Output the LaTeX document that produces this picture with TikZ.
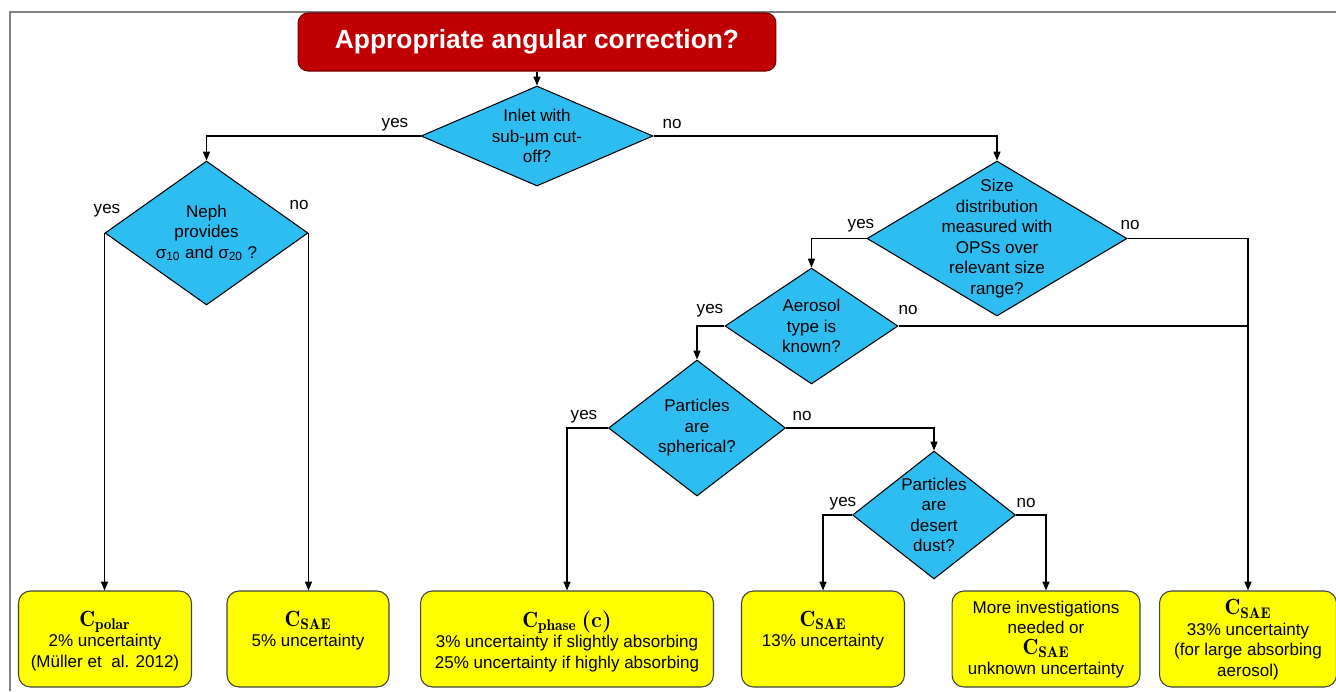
\documentclass[tikz,border=0pt]{standalone}
\usepackage{fontspec}
\usepackage{amsmath}
\usetikzlibrary{shapes.geometric, arrows.meta}
\newfontfamily\arialfont{Liberation Sans}
\definecolor{titlered}{HTML}{C00000}
\definecolor{qblue}{HTML}{2EBDF0}
\definecolor{ansyellow}{HTML}{FFFF00}
\definecolor{framegray}{HTML}{808080}
\newcommand{\qfont}{\arialfont\fontsize{9.7}{11.65}\selectfont}
\newcommand{\Cbold}[1]{{\fontsize{12.5}{11.65}\selectfont$\mathbf{C}_{\mathbf{#1}}$}}
\newcommand{\restext}[3]{\parbox[c][1.92cm][t]{#1}{\centering\vspace*{#2}#3}}
\tikzstyle{headline} = [rectangle, rounded corners=0.2cm, minimum width=9.56cm, minimum height=1.16cm, draw=titlered!60!black, fill=titlered, text=white, font=\arialfont\fontsize{15}{18}\selectfont\bfseries]
\tikzstyle{question} = [diamond, inner sep=0pt, draw=black, fill=qblue]
\tikzstyle{qtext} = [align=center, inner sep=0pt, font=\qfont]
\tikzstyle{answer} = [rectangle, rounded corners=0.24cm, minimum height=1.92cm, inner sep=0pt, draw=black!75, fill=ansyellow, font=\qfont]
\tikzstyle{branch} = [inner sep=0pt, font=\qfont]
\tikzstyle{arrow} = [->,>={Triangle[length=5pt,width=4pt]}]

\begin{document}
\begin{tikzpicture}[x=0.02cm, y=-0.02cm, line width=0.6pt]
	\useasboundingbox (0,0) rectangle (1336,691);
	\draw [framegray, line width=1.1pt] (1336,12) -- (10,12) -- (10,691);
	\node (title) [headline] at (537,42) {Appropriate angular correction?};
	% questions
	\node (inlet) [question, minimum width=4.64cm, minimum height=2cm, label={[qtext]center:{Inlet with\\sub-µm cut-\\off?}}] at (537,136) {};
	\node (neph) [question, minimum width=4.06cm, minimum height=2.88cm, label={[qtext]center:{Neph\\provides\\σ\textsubscript{10} and σ\textsubscript{20} ?}}] at (206.5,233) {};
	\node (size) [question, minimum width=5.2cm, minimum height=3.1cm, label={[qtext]center:{Size\\distribution\\measured with\\OPSs over\\relevant size\\range?}}] at (997,238.5) {};
	\node (aerosol) [question, minimum width=3.46cm, minimum height=2.32cm, label={[qtext]center:{Aerosol\\type is\\known?}}] at (811.5,326) {};
	\node (sphere) [question, minimum width=3.54cm, minimum height=2.72cm, label={[qtext]center:{Particles\\are\\spherical?}}] at (697,428) {};
	\node (desert) [question, minimum width=3.26cm, minimum height=2.56cm, label={[qtext]center:{Particles\\are\\desert\\dust?}}] at (934,515) {};
	% results
	\node (polar) [answer, minimum width=3.46cm] at (105,639) {\restext{3.3cm}{0.4cm}{\Cbold{polar}\\2\% uncertainty\\(Müller et~ al. 2012)}};
	\node (saeneph) [answer, minimum width=3.24cm] at (308,639) {\restext{3.1cm}{0.4cm}{\Cbold{SAE}\\5\% uncertainty}};
	\node (phase) [answer, minimum width=5.86cm] at (567,639) {\restext{5.7cm}{0.4cm}{\Cbold{phase} {\normalfont\fontsize{12.5}{11.65}\selectfont\bfseries (c)}\\3\% uncertainty if slightly absorbing\\25\% uncertainty if highly absorbing}};
	\node (saedust) [answer, minimum width=3.26cm] at (823,639) {\restext{3.1cm}{0.4cm}{\Cbold{SAE}\\13\% uncertainty}};
	\node (more) [answer, minimum width=3.76cm] at (1046,639) {\restext{3.6cm}{0.2cm}{More investigations\\needed or\\\Cbold{SAE}\\unknown uncertainty}};
	\node (saeabs) [answer, minimum width=3.54cm] at (1248,639) {\restext{3.4cm}{0.17cm}{\Cbold{SAE}\\33\% uncertainty\\(for large absorbing\\aerosol)}};
	% connectors
	\draw [arrow] (title) -- (inlet);
	\draw [arrow] (inlet.west) -| (neph.north);
	\draw [arrow] (inlet.east) -| (size.north);
	\draw [arrow] (neph.west) -- (neph.west |- polar.north);
	\draw [arrow] (neph.east) -- (neph.east |- saeneph.north);
	\draw [arrow] (size.west) -| (aerosol.north);
	\draw [arrow] (size.east) -| (saeabs.north);
	\draw (aerosol.east) -- (aerosol.east -| saeabs.north);
	\draw [arrow] (aerosol.west) -| (sphere.north);
	\draw [arrow] (sphere.west) -| (phase.north);
	\draw [arrow] (sphere.east) -| (desert.north);
	\draw [arrow] (desert.west) -| (saedust.north);
	\draw [arrow] (desert.east) -| (more.north);
	% yes / no
	\node (inletyes) [branch] at (395,125) {yes};
	\node (inletno) [branch] at (672,124) {no};
	\node (nephyes) [branch] at (107,211) {yes};
	\node (nephno) [branch] at (299,205) {no};
	\node (sizeyes) [branch] at (861,226) {yes};
	\node (sizeno) [branch] at (1130,225) {no};
	\node (aerosolyes) [branch] at (710,311) {yes};
	\node (aerosolno) [branch] at (908,310) {no};
	\node (sphereyes) [branch] at (584,417) {yes};
	\node (sphereno) [branch] at (802,416) {no};
	\node (desertyes) [branch] at (843,504) {yes};
	\node (desertno) [branch] at (1026,503) {no};
\end{tikzpicture}
\end{document}
